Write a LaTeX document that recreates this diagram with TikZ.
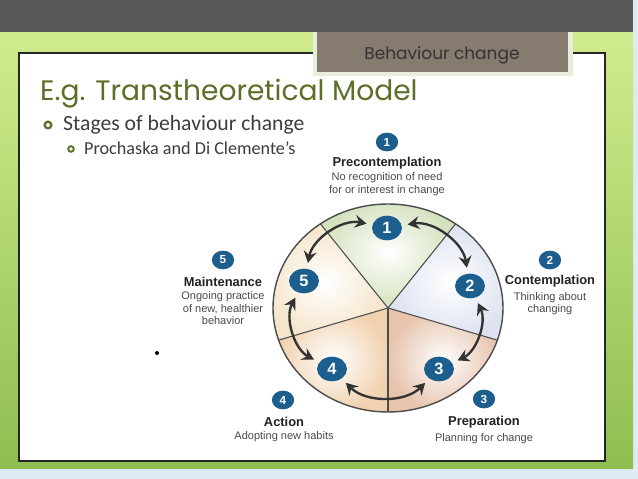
\documentclass[tikz,border=0pt]{standalone}
\usepackage{fontspec}
\setmainfont{Liberation Sans}
\newfontfamily\slidefont{Poppins}
\newfontfamily\bodyfont{Carlito}
\usetikzlibrary{shapes.geometric, arrows.meta, positioning}

\definecolor{paleblue}{HTML}{DDECF2}
\definecolor{bandgray}{HTML}{575757}
\definecolor{greenlight}{HTML}{D0EC8E}
\definecolor{greendark}{HTML}{8FBE50}
\definecolor{tabbrown}{HTML}{857B6F}
\definecolor{tabedge}{HTML}{E9EEDB}
\definecolor{olive}{HTML}{5B6F27}
\definecolor{bodygray}{HTML}{3D3D3D}
\definecolor{stageblue}{HTML}{1C5E8E}
\definecolor{arrowgray}{HTML}{333333}
\definecolor{labelgray}{HTML}{222222}
\definecolor{descgray}{HTML}{4A4A4A}
\definecolor{wedgegreen}{HTML}{D3E1BD}
\definecolor{wedgeblue}{HTML}{DCE2F0}
\definecolor{wedgepeach}{HTML}{E6C4AE}
\definecolor{wedgeorange}{HTML}{F1D2B0}
\definecolor{wedgecream}{HTML}{F5E5CA}

\begin{document}
\begin{tikzpicture}[x=0.03cm, y=-0.03cm,
    badge/.style={ellipse, fill=stageblue, text=white, inner sep=0pt},
    bigbadge/.style={badge, minimum width=25.5pt, minimum height=21pt, font=\fontsize{14}{14}\selectfont\bfseries},
    smallbadge/.style={badge, minimum width=19pt, minimum height=16pt, font=\fontsize{10}{10}\selectfont\bfseries},
    stagetitle/.style={font=\fontsize{11}{12}\selectfont\bfseries, text=labelgray, inner sep=1pt},
    stagetext/.style={font=\fontsize{9.4}{10.4}\selectfont, text=descgray, align=center, inner sep=1pt},
    cyclearrow/.style={draw=arrowgray, line width=2pt, {Stealth[length=10pt,width=11pt,inset=3.5pt]}-{Stealth[length=10pt,width=11pt,inset=3.5pt]}, shorten <=5pt, shorten >=5pt}]
    \useasboundingbox (0,0) rectangle (638,479);

    % Slide background
    \fill[paleblue] (0,0) rectangle (638,479);
    \shade[top color=greenlight, bottom color=greendark] (0,32) rectangle (633,468);
    \fill[bandgray] (0,0) rectangle (633,32);
    \draw[fill=white, draw=black!85, line width=1.2pt] (19,53) rectangle (605,461);

    % Header tab
    \fill[tabedge] (313,32) rectangle (573,76);
    \fill[tabbrown] (317,32) rectangle (568,72);
    \node[font=\slidefont\fontsize{14.5}{14.5}\selectfont, text=black!80] (tab) at (442,55) {Behaviour change};

    % Title and bullets
    \node[anchor=base west, font=\slidefont\fontsize{24}{24}\selectfont, text=olive, inner sep=0pt] (title) at (40,101) {E.g. Transtheoretical Model};
    \draw[olive, line width=2pt] (48,125) circle[radius=3.3];
    \node[anchor=base west, font=\bodyfont\fontsize{18.5}{18.5}\selectfont, text=bodygray, inner sep=0pt] (stages) at (63,131) {Stages of behaviour change};
    \draw[olive, line width=1.6pt] (71,149) circle[radius=2.8];
    \node[anchor=base west, font=\bodyfont\fontsize{15.5}{15.5}\selectfont, text=bodygray, inner sep=0pt] (author) at (84,154) {Prochaska and Di Clemente’s};
    \fill (157,353) circle[radius=2];

    % Wheel of five stages
    \coordinate (hub) at (388,308);
    \foreach \a/\c in {-126/wedgegreen, -54/wedgeblue, 18/wedgepeach, 90/wedgeorange, 162/wedgecream} {
        \shade[inner color=white, outer color=\c] (hub) -- ++(\a:115 and 104)
            arc[start angle=\a, end angle=\a+72, x radius=115, y radius=104] -- cycle;
    }
    \foreach \a in {-126, -54, 18, 90, 162} {
        \draw[black!70, line width=0.9pt] (hub) -- ++(\a:115 and 104);
    }
    \draw[black!70, line width=1.2pt] (hub) ellipse[x radius=115, y radius=104];

    % Inner badges
    \foreach \n/\x/\y in {1/387/228, 2/470/286, 3/439/369, 4/332/369, 5/304/281} {
        \node[bigbadge] (b\n) at (\x,\y) {\n};
    }

    % Arrows between stages
    \draw[cyclearrow] (b1) to[bend left=45] (b2);
    \draw[cyclearrow] (b2) to[bend left=45] (b3);
    \draw[cyclearrow] (b3) to[bend left=45] (b4);
    \draw[cyclearrow] (b4) to[bend left=45] (b5);
    \draw[cyclearrow] (b5) to[bend left=45] (b1);

    % Outer badges and labels
    \node[smallbadge] (o1) at (387,142) {1};
    \node[stagetitle] (t1) at (387,163) {Precontemplation};
    \node[stagetext, below=1pt of t1] (d1) {No recognition of need\\for or interest in change};

    \node[smallbadge] (o2) at (550,260) {2};
    \node[stagetitle] (t2) at (550,281) {Contemplation};
    \node[stagetext, below=2pt of t2] (d2) {Thinking about\\changing};

    \node[smallbadge] (o3) at (484,399) {3};
    \node[stagetitle] (t3) at (484,422) {Preparation};
    \node[stagetext, below=2pt of t3] (d3) {Planning for change};

    \node[smallbadge] (o4) at (283,400) {4};
    \node[stagetitle] (t4) at (284,422) {Action};
    \node[stagetext, below=2pt of t4] (d4) {Adopting new habits};

    \node[smallbadge] (o5) at (223,260) {5};
    \node[stagetitle] (t5) at (223,282) {Maintenance};
    \node[stagetext, below=2pt of t5] (d5) {Ongoing practice\\of new, healthier\\behavior};
\end{tikzpicture}
\end{document}
